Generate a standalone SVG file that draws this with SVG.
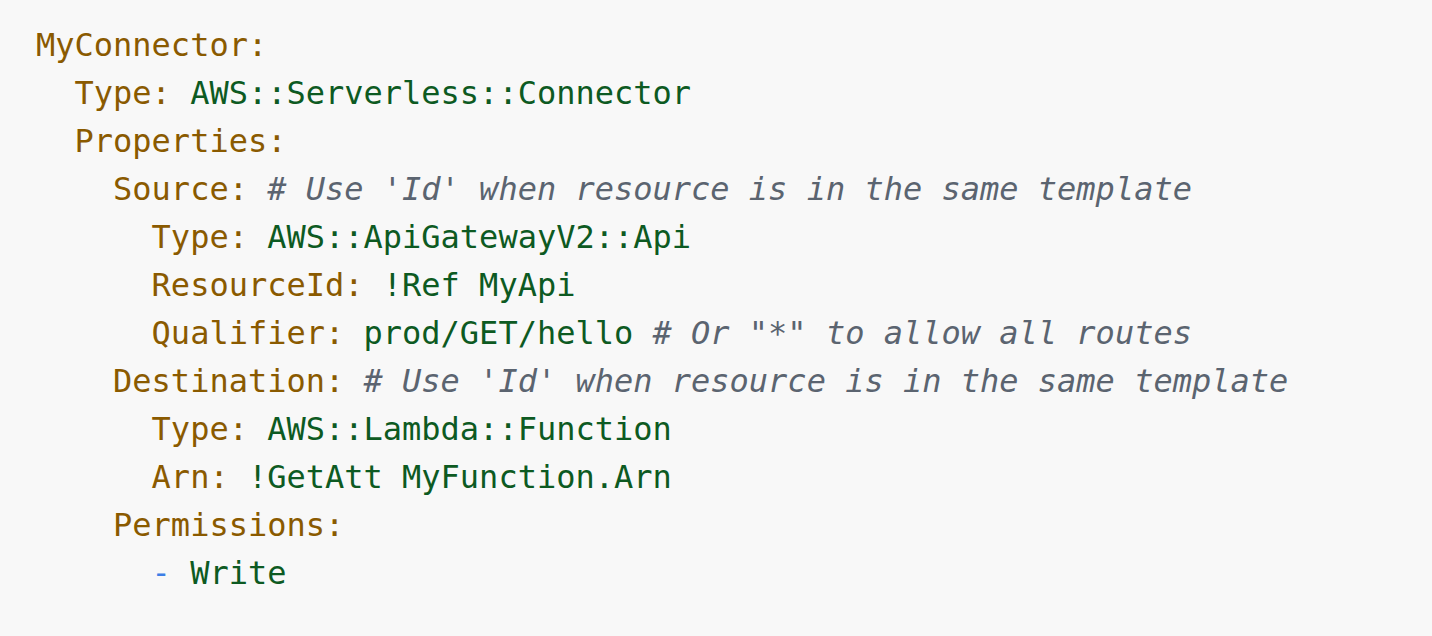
<svg xmlns="http://www.w3.org/2000/svg" width="1432" height="636" viewBox="0 0 1432 636">
<style>
text{font-family:"DejaVu Sans Mono","Liberation Mono",monospace;font-size:32px;white-space:pre}
.k{fill:#8a5a00}
.v{fill:#0d5a22}
.c{fill:#5b6470;font-style:italic}
.d{fill:#3d7ee6}
</style>
<rect width="1432" height="636" fill="#f8f8f8"/>
<g id="code" xml:space="preserve">
<text x="36" y="56"><tspan class="k">MyConnector:</tspan></text>
<text x="36" y="104"><tspan class="k">  Type:</tspan><tspan class="v"> AWS::Serverless::Connector</tspan></text>
<text x="36" y="152"><tspan class="k">  Properties:</tspan></text>
<text x="36" y="200"><tspan class="k">    Source:</tspan> <tspan class="c"># Use 'Id' when resource is in the same template</tspan></text>
<text x="36" y="248"><tspan class="k">      Type:</tspan><tspan class="v"> AWS::ApiGatewayV2::Api</tspan></text>
<text x="36" y="296"><tspan class="k">      ResourceId:</tspan><tspan class="v"> !Ref MyApi</tspan></text>
<text x="36" y="344"><tspan class="k">      Qualifier:</tspan><tspan class="v"> prod/GET/hello</tspan> <tspan class="c"># Or "*" to allow all routes</tspan></text>
<text x="36" y="392"><tspan class="k">    Destination:</tspan> <tspan class="c"># Use 'Id' when resource is in the same template</tspan></text>
<text x="36" y="440"><tspan class="k">      Type:</tspan><tspan class="v"> AWS::Lambda::Function</tspan></text>
<text x="36" y="488"><tspan class="k">      Arn:</tspan><tspan class="v"> !GetAtt MyFunction.Arn</tspan></text>
<text x="36" y="536"><tspan class="k">    Permissions:</tspan></text>
<text x="36" y="584"><tspan class="d">      -</tspan><tspan class="v"> Write</tspan></text>
</g>
</svg>
